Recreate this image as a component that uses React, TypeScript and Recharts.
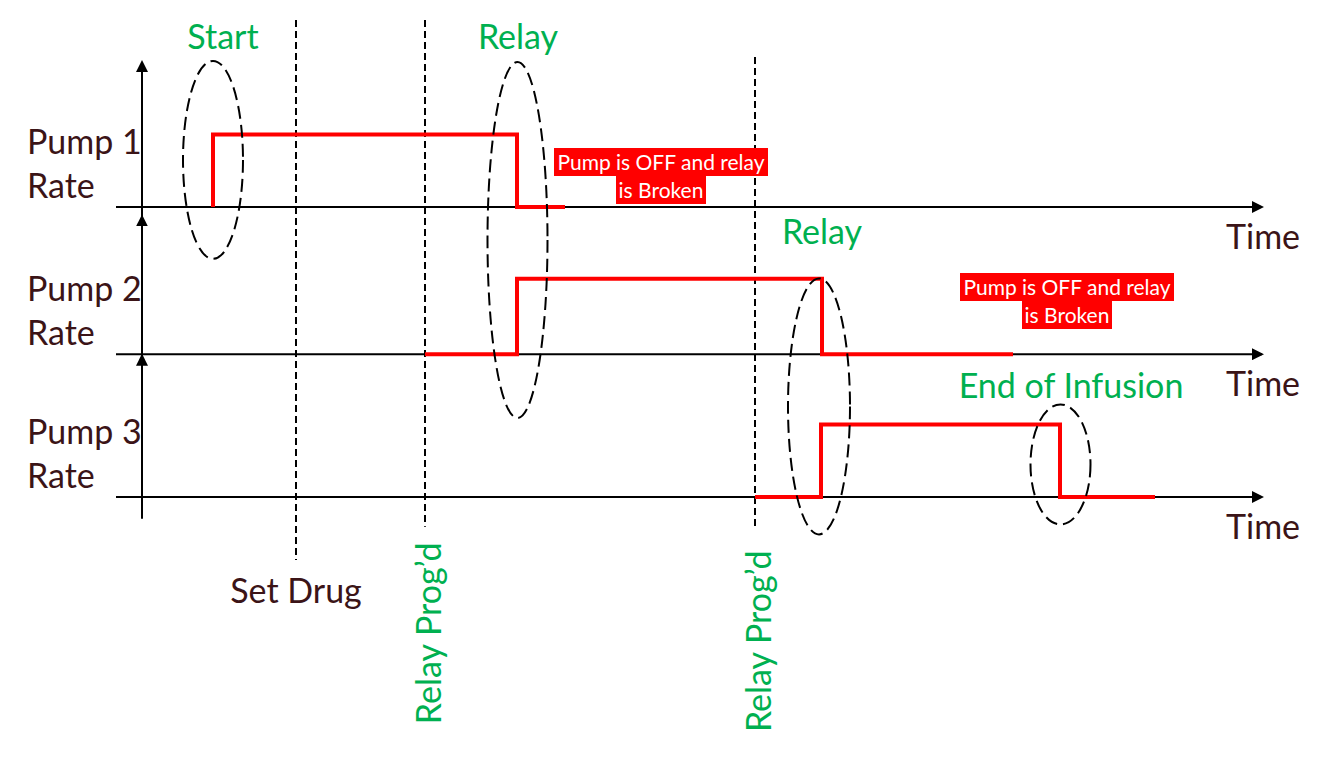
import React from 'react';
import { ComposedChart, Line, XAxis, YAxis, ReferenceLine, ReferenceDot } from 'recharts';

const BROWN = '#3b1417';
const GREEN = '#00b050';
const RED = '#ff0000';
const FONT = 'Lato, "Open Sans", sans-serif';

// lanes: each pump sits on its own baseline (y units), rate 0 = off, 1 = on
const pumpNames = ['Pump 1', 'Pump 2', 'Pump 3'];
const laneOffsets = [4, 1.97, 0];
const laneAxisTops = [6.0, 3.87, 1.95];

// step times and rates for each pump
const pump1Times = [7.1, 7.1, 37.5, 42.3];
const pump1Rates = [0, 1, 0, 0];
const pump2Times = [28.3, 37.5, 68.0, 87.1];
const pump2Rates = [0, 1.04, 0, 0];
const pump3Times = [61.3, 67.9, 91.8, 101.3];
const pump3Rates = [0, 1, 0, 0];

// dashed event markers
const eventNames = ['Set Drug', 'Relay Prog\u2019d', 'Relay Prog\u2019d'];
const eventTimes = [15.4, 28.3, 61.3];
const eventTops = [6.58, 6.58, 6.07];
const eventBottoms = [-0.87, -0.41, -0.41];
const eventLabelY = [-1.46, -1.88, -1.99];

// circled moments
const noteNames = ['Start', 'Relay', 'Relay', 'End of Infusion'];
const noteTimes = [7.1, 37.55, 67.7, 91.85];
const noteCenters = [4.65, 3.545, 1.25, 0.45];
const noteLabelTimes = [8.1, 37.6, 68.0, 92.9];
const noteLabelY = [6.18, 6.18, 3.49, 1.36];
const ellipseRx = [30, 30, 31, 30];
const ellipseRy = [99, 178, 128, 60];

// red status boxes
const statusLines = ['Pump is OFF and relay', 'is Broken'];
const statusTimes = [51.9, 92.5];
const statusTops = [4.82, 3.09];

const T_MIN = -3;
const T_MAX = 112;
const AXIS_START = -2.6;

const toData = (times: number[], rates: number[], offset: number) =>
  times.map((t, i) => ({ t, y: offset + rates[i] }));

const pumpSeries = [
  toData(pump1Times, pump1Rates, laneOffsets[0]),
  toData(pump2Times, pump2Rates, laneOffsets[1]),
  toData(pump3Times, pump3Rates, laneOffsets[2]),
];

const arrowLine = (p: any) => (
  <line x1={p.x1} y1={p.y1} x2={p.x2} y2={p.y2} stroke="#000" strokeWidth={2} markerEnd="url(#arrowHead)" />
);

const textShape = (txt: string, color: string, anchor: string, rotate = false) => (p: any) => (
  <text
    x={p.cx}
    y={p.cy}
    fill={color}
    fontFamily={FONT}
    fontSize={34}
    textAnchor={anchor}
    transform={rotate ? `rotate(-90 ${p.cx} ${p.cy})` : undefined}
  >
    {txt}
  </text>
);

export default function App() {
  return (
    <div style={{ position: 'absolute', left: 0, top: 0, width: 1326, height: 760, background: '#fff' }}>
      <ComposedChart width={1326} height={760} margin={{ top: 4, right: 64, bottom: 2, left: 112 }}>
        <defs>
          <marker id="arrowHead" viewBox="0 0 12 12" refX={10} refY={6} markerWidth={12} markerHeight={12}
            markerUnits="userSpaceOnUse" orient="auto">
            <path d="M0,0 L12,6 L0,12 z" fill="#000" />
          </marker>
        </defs>
        <XAxis dataKey="t" type="number" domain={[T_MIN, T_MAX]} allowDataOverflow hide />
        <YAxis type="number" domain={[-3.6, 6.8]} allowDataOverflow hide />

        {/* event markers */}
        {eventTimes.map((t, i) => (
          <ReferenceLine key={`ev-${i}`} segment={[{ x: t, y: eventTops[i] }, { x: t, y: eventBottoms[i] }]}
            stroke="#000" strokeWidth={2} strokeDasharray="7 4" ifOverflow="visible" />
        ))}

        {/* main vertical axis and the lane arrows */}
        <ReferenceLine segment={[{ x: 0, y: -0.3 }, { x: 0, y: laneAxisTops[0] }]} shape={arrowLine} ifOverflow="visible" />
        {laneAxisTops.slice(1).map((top, i) => (
          <ReferenceLine key={`va-${i}`} segment={[{ x: 0, y: top - 0.4 }, { x: 0, y: top }]} shape={arrowLine} ifOverflow="visible" />
        ))}

        {/* time axes */}
        {laneOffsets.map((off, i) => (
          <ReferenceLine key={`ha-${i}`} segment={[{ x: AXIS_START, y: off }, { x: T_MAX, y: off }]} shape={arrowLine} ifOverflow="visible" />
        ))}

        {pumpSeries.map((d, i) => (
          <Line key={`pump-${i}`} data={d} dataKey="y" type="stepAfter" stroke={RED} strokeWidth={4}
            dot={false} activeDot={false} isAnimationActive={false} strokeLinejoin="miter" />
        ))}

        {/* ellipses around the moments */}
        {noteTimes.map((t, i) => (
          <ReferenceDot key={`el-${i}`} x={t} y={noteCenters[i]} r={0} ifOverflow="visible"
            shape={(p: any) => (
              <ellipse cx={p.cx} cy={p.cy} rx={ellipseRx[i]} ry={ellipseRy[i]} fill="none"
                stroke="#000" strokeWidth={2} strokeDasharray="13 6" />
            )} />
        ))}

        {noteNames.map((n, i) => (
          <ReferenceDot key={`nl-${i}`} x={noteLabelTimes[i]} y={noteLabelY[i]} r={0} ifOverflow="visible"
            shape={textShape(n, GREEN, 'middle')} />
        ))}

        {/* event labels */}
        <ReferenceDot x={eventTimes[0]} y={eventLabelY[0]} r={0} ifOverflow="visible" shape={textShape(eventNames[0], BROWN, 'middle')} />
        {eventTimes.slice(1).map((t, i) => (
          <ReferenceDot key={`el2-${i}`} x={t + 1.6} y={eventLabelY[i + 1]} r={0} ifOverflow="visible"
            shape={textShape(eventNames[i + 1], GREEN, 'middle', true)} />
        ))}

        {/* lane labels */}
        {pumpNames.map((n, i) => (
          <ReferenceDot key={`ln-${i}`} x={-11.5} y={laneOffsets[i] + 0.73} r={0} ifOverflow="visible"
            shape={textShape(n, BROWN, 'start')} />
        ))}
        {pumpNames.map((n, i) => (
          <ReferenceDot key={`lr-${i}`} x={-11.5} y={laneOffsets[i] + 0.13} r={0} ifOverflow="visible"
            shape={textShape('Rate', BROWN, 'start')} />
        ))}
        {laneOffsets.map((off, i) => (
          <ReferenceDot key={`tm-${i}`} x={108.4} y={off - 0.58} r={0} ifOverflow="visible"
            shape={textShape('Time', BROWN, 'start')} />
        ))}

        {/* red status boxes */}
        {statusTimes.map((t, i) => (
          <ReferenceDot key={`st-${i}`} x={t} y={statusTops[i]} r={0} ifOverflow="visible"
            shape={(p: any) => (
              <foreignObject x={p.cx - 160} y={p.cy} width={320} height={60}>
                <div style={{ fontFamily: FONT, fontSize: 21, lineHeight: '28px', color: '#fff' }}>
                  {statusLines.map((s) => (
                    <div key={s} style={{ width: 'fit-content', margin: '0 auto', background: RED, padding: '0 3px' }}>{s}</div>
                  ))}
                </div>
              </foreignObject>
            )} />
        ))}
      </ComposedChart>
    </div>
  );
}
